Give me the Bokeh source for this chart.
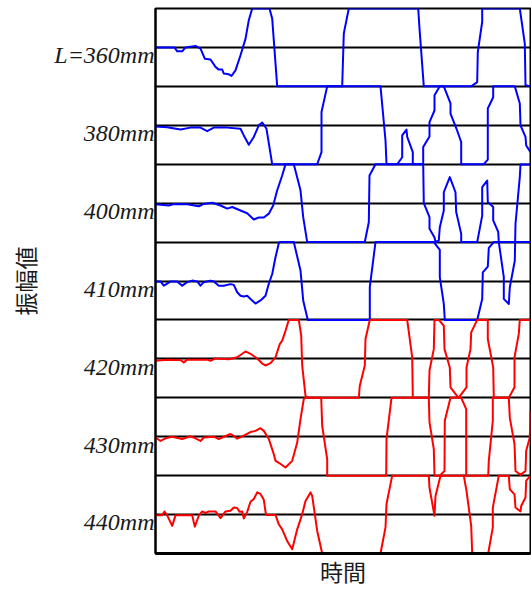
from bokeh.plotting import figure
from bokeh.models import Range1d, FixedTicker
from bokeh.embed import file_html
from bokeh.resources import INLINE

# ---- data: time (arbitrary units) and amplitude (strip units, ±1 = strip edge) ----
labels = ["L=360mm", "380mm", "400mm", "410mm", "420mm", "430mm", "440mm"]
colors = ["#0000ff", "#0000ff", "#0000ff", "#0000ff", "#ff0000", "#ff0000", "#ff0000"]

t_360 = [0, 19, 21.7, 26.7, 30, 40, 45, 49.3, 55, 60, 63.3, 66.7, 68.3, 73.3, 76, 80, 85, 90, 93.3, 96.7,
         114, 116.7, 121.7, 186.7, 188.3, 193.3, 262.7, 264, 268.3, 315.7, 321.7, 322.3, 326.7, 326.7,
         364.3, 369.3, 370, 375]
a_360 = [0, 0, -0.1, -0.1, 0, 0.04, -0.03, -0.29, -0.31, -0.5, -0.57, -0.57, -0.67, -0.69, -0.73, -0.59, -0.2, 0.22, 0.7, 1,
         1, 0.74, -1, -1, 0.36, 1, 1, 0.49, -1, -1, -0.89, -0.12, 0.66, 1,
         1, 0.1, -0.97, -1]

t_380 = [0, 11.7, 25, 35, 45, 51.7, 58.3, 71.7, 85, 88.3, 93.3, 98.3, 103.3, 106.7, 110, 111, 116.7,
         161.7, 166, 166, 171.7, 225, 230, 231, 241.7, 246.7, 246.7, 251, 251.7, 257.3, 257.3,
         267.7, 267.7, 274, 274, 279, 279, 284.3, 288.3, 295, 295, 301, 305.7, 305.7,
         328.3, 332.3, 332.3, 337.7, 337.7, 359.3, 364.3, 365, 370, 370.7, 375]
a_380 = [-0.03, -0.05, -0.11, -0.06, -0.06, -0.15, -0.06, -0.06, -0.09, -0.26, -0.5, -0.3, 0, 0.07, -0.05, -0.09, -1,
         -1, -0.69, 0.34, 1, 1, -0.39, -1, -1, -0.82, -0.26, -0.11, -0.3, -0.69, -1,
         -1, -0.56, -0.29, 0.08, 0.38, 0.77, 1, 1, 0.56, 0.3, -0.09, -0.43, -1,
         -1, -0.88, 0.43, 0.72, 1, 1, 0.56, 0, -0.3, -0.52, -0.69]

t_400 = [0, 13.3, 18.3, 31.7, 43.3, 48.3, 56.7, 65, 71.7, 76.7, 85, 91.7, 98.3, 103.3, 108.3, 113.3, 117.7,
         121.7, 126.7, 130, 138.3, 145, 147.7, 151.7, 209.3, 213.3, 214, 220, 267.7, 268.3, 274, 274,
         279, 280, 283.3, 284.3, 288.3, 288.3, 294.3, 300, 300.7, 305.7, 305.7, 321.7, 326.7, 326.7,
         331.7, 332.3, 337.7, 337.7, 342.7, 343.3, 375]
a_400 = [-0.03, -0.06, -0.02, -0.03, -0.08, -0.02, 0.01, -0.06, -0.14, -0.1, -0.19, -0.26, -0.42, -0.37, -0.37, -0.27, -0.06,
         0.33, 0.71, 1, 1, 0.33, -0.36, -1, -1, -0.49, 0.71, 1, 1, 0, -0.36, -0.66,
         -0.88, -1, -0.96, -0.62, -0.19, 0.28, 0.67, 0.28, -0.23, -0.79, -1, -1, -0.32, 0.41,
         0.58, 0.03, -0.1, -0.44, -0.74, -1, -1]

t_410 = [0, 5, 8.3, 11.7, 15, 21.7, 26.7, 31.7, 36.7, 41.7, 45, 48.3, 55, 58.3, 63.3, 68.3, 75, 78.3,
         81.7, 85, 88.3, 91.7, 95, 100, 105, 110, 113.3, 116.7, 120, 123.3, 124.5, 138.3, 145, 147.7,
         152.3, 214.3, 214.3, 220, 278.3, 284.3, 284.3, 288.3, 289.3, 321.7, 326.7, 327.3, 332.3,
         333.3, 338.3, 343.3, 348.3, 348.3, 353.3, 354.3, 359.3, 360, 364.3, 365, 375]
a_410 = [-0.01, -0.01, -0.12, -0.07, -0.01, -0.01, -0.12, -0.03, 0.01, -0.01, -0.12, -0.03, 0.01, -0.01, -0.12, -0.12, -0.08, -0.1,
         -0.29, -0.38, -0.4, -0.38, -0.46, -0.58, -0.5, -0.38, -0.07, 0.18, 0.61, 0.97, 1, 1, 0.27, -0.5,
         -1, -1, -0.16, 1, 1, 0.8, 0.1, -0.59, -1, -1, -0.46, 0.22, 0.37,
         0.85, 1, 1, 0.1, -0.46, -0.59, -0.16, 0.52, 1.47, 2.67, 2.99, 2.99]

t_420 = [0, 11.7, 25, 28.3, 31.7, 51.7, 55, 60, 73.3, 81.7, 90, 95, 101.7, 106.7, 110, 115, 120, 124.3,
         126.7, 130, 133.3, 143.3, 145.7, 146.7, 150, 152.3, 203.3, 204.3, 209.3, 210, 214.3, 251.7,
         256.7, 257.3, 273.3, 274, 278.3, 279, 283.3, 288.3, 289, 294.3, 295, 303, 311, 311, 315,
         315.7, 321.7, 332.3, 332.3, 337.7, 338.3, 353.3, 359, 359, 363.3, 364.3, 375]
a_420 = [-0.05, -0.02, -0.03, -0.09, -0.02, -0.02, -0.05, 0.01, -0.01, 0.04, 0.19, 0.13, 0.01, -0.12, -0.17, -0.11, 0.04, 0.38,
         0.47, 0.72, 1, 1, 0.6, -0.17, -0.95, -1, -1, -0.69, -0.17, 0.51, 1, 1,
         0.04, -1, -1, -0.3, 0.25, 1, 1, 0.85, 0.25, -0.22, -0.73, -1, -0.73, -0.22, 0.25,
         0.68, 1, 1, 0.51, -0.22, -1, -1, -0.73, 0.04, 0.64, 1, 1]

t_430 = [0, 5, 10, 16.7, 26.7, 35, 40, 45, 48.3, 58.3, 63.3, 66.7, 75, 78.3, 81.7, 86.7, 95, 100, 105,
         108.3, 113.3, 115, 118.3, 120, 123.3, 130, 136.7, 141.7, 145, 148.3, 150, 165.7, 166.7,
         171.7, 171.7, 230.7, 231, 236, 273.3, 274, 278.3, 279, 284.3, 289, 289.3, 295, 305.7, 310.7,
         310.7, 332.7, 333.3, 337.3, 337.3, 353.3, 354.3, 359, 360, 365, 370, 370.7, 374.3, 375]
a_430 = [-0.02, -0.11, -0.04, 0, -0.06, 0.01, -0.04, -0.11, -0.02, 0, -0.06, -0.02, 0.07, 0.02, -0.05, 0.01, 0.12, 0.15, 0.22,
         0.15, -0.06, -0.19, -0.45, -0.62, -0.67, -0.79, -0.62, -0.15, 0.45, 0.97, 1, 1, 0.28,
         -0.58, -1, -1, -0.06, 1, 1, 0.37, -0.32, -1, -1, -0.88, 0.41, 1, 1, 0.71,
         -1, -1, -0.62, 0.41, 1, 1, 0.49, -0.19, -0.88, -0.98, -0.88, -0.36, -0.02, 0.67]

t_440 = [0, 6.7, 9, 11.7, 16.7, 20, 36.7, 39.3, 43.3, 46.7, 50, 53.3, 60, 65, 70, 75, 78.3, 81.7, 84,
         86.7, 88.3, 91.7, 95, 98.3, 101.7, 105, 108.3, 110.5, 120, 123.3, 126.7, 131.7, 136.7, 141.7,
         146.7, 150, 155, 156.7, 161.7, 166.7, 225, 230, 231, 236.7, 273.3, 274, 279, 280, 285,
         308.3, 311, 315.7, 316.7, 332.7, 337.3, 337.3, 343.3, 353.3, 354.3, 359, 360, 365, 365.7,
         370, 370.7, 375]
a_440 = [-0.02, -0.02, 0.08, -0.02, -0.29, -0.02, -0.02, -0.31, -0.03, 0.08, 0.04, 0.08, 0.08, -0.09, 0.08, 0.1, 0.18, 0.17, 0.07,
         0.08, -0.1, 0.07, 0.33, 0.4, 0.57, 0.53, 0.38, -0.01, -0.01, -0.25, -0.38, -0.68, -0.89, -0.38,
         0.01, 0.35, 0.57, 0.48, -0.42, -1, -1, -0.33, 0.27, 1, 1, 0.69, -0.03, 0.48, 1,
         1, 0.61, -0.29, -1, -1, -0.33, 0.18, 1, 1, 0.65, 0.52, 0.18, 0.08, 0.22,
         0.44, 0.87, 1]

times = [t_360, t_380, t_400, t_410, t_420, t_430, t_440]
amps = [a_360, a_380, a_400, a_410, a_420, a_430, a_440]

n = len(labels)
centers = [2 * (n - 1 - k) + 1 for k in range(n)]   # strip centres, strip height 2 units
label_shift = 0.2
T_MAX = 375

p = figure(width=531, height=589, output_backend="svg", toolbar_location=None,
           x_range=Range1d(0, T_MAX), y_range=Range1d(0, 2 * n),
           min_border_left=155, min_border_right=1, min_border_top=8, min_border_bottom=36)
p.background_fill_color = "white"
p.border_fill_color = "white"
p.outline_line_color = "black"
p.outline_line_width = 2

p.xgrid.visible = False
p.ygrid.ticker = FixedTicker(ticks=list(range(0, 2 * n + 1)))
p.ygrid.grid_line_color = "black"
p.ygrid.grid_line_width = 2
p.ygrid.grid_line_alpha = 1.0

for tt, aa, c0, col in zip(times, amps, centers, colors):
    ys = [c0 + a for a in aa]
    p.line(tt, ys, line_color=col, line_width=2, line_join="round")

# y axis: strip labels
ticks = [round(c - label_shift, 3) for c in centers]
p.yaxis.ticker = FixedTicker(ticks=ticks)
p.yaxis.major_label_overrides = {tk: lab for tk, lab in zip(ticks, labels)}
p.yaxis.major_label_text_font = "Liberation Serif"
p.yaxis.major_label_text_font_style = "italic"
p.yaxis.major_label_text_font_size = "24px"
p.yaxis.major_label_text_color = "#1a1a1a"
p.yaxis.major_label_standoff = 1
p.yaxis.major_tick_line_color = None
p.yaxis.minor_tick_line_color = None
p.yaxis.major_tick_out = 0
p.yaxis.major_tick_in = 0
p.yaxis.axis_line_width = 2
p.yaxis.axis_line_color = "black"
p.yaxis.axis_label = "振幅値"
p.yaxis.axis_label_text_font = "Noto Sans CJK JP"
p.yaxis.axis_label_text_font_style = "normal"
p.yaxis.axis_label_text_font_size = "23px"
p.yaxis.axis_label_text_color = "#1a1a1a"
p.yaxis.axis_label_standoff = 9

# x axis: line and title, no ticks
p.xaxis.ticker = FixedTicker(ticks=[])
p.xaxis.major_tick_line_color = None
p.xaxis.minor_tick_line_color = None
p.xaxis.major_tick_out = 0
p.xaxis.major_tick_in = 0
p.xaxis.major_label_text_font_size = "0px"
p.xaxis.major_label_standoff = 0
p.xaxis.axis_line_width = 3
p.xaxis.axis_line_color = "black"
p.xaxis.axis_label = "時間"
p.xaxis.axis_label_text_font = "Liberation Sans, Noto Sans CJK JP"
p.xaxis.axis_label_text_font_style = "normal"
p.xaxis.axis_label_text_font_size = "23px"
p.xaxis.axis_label_text_color = "#1a1a1a"
p.xaxis.axis_label_standoff = 6

open("out.html", "w").write(file_html(p, INLINE))
